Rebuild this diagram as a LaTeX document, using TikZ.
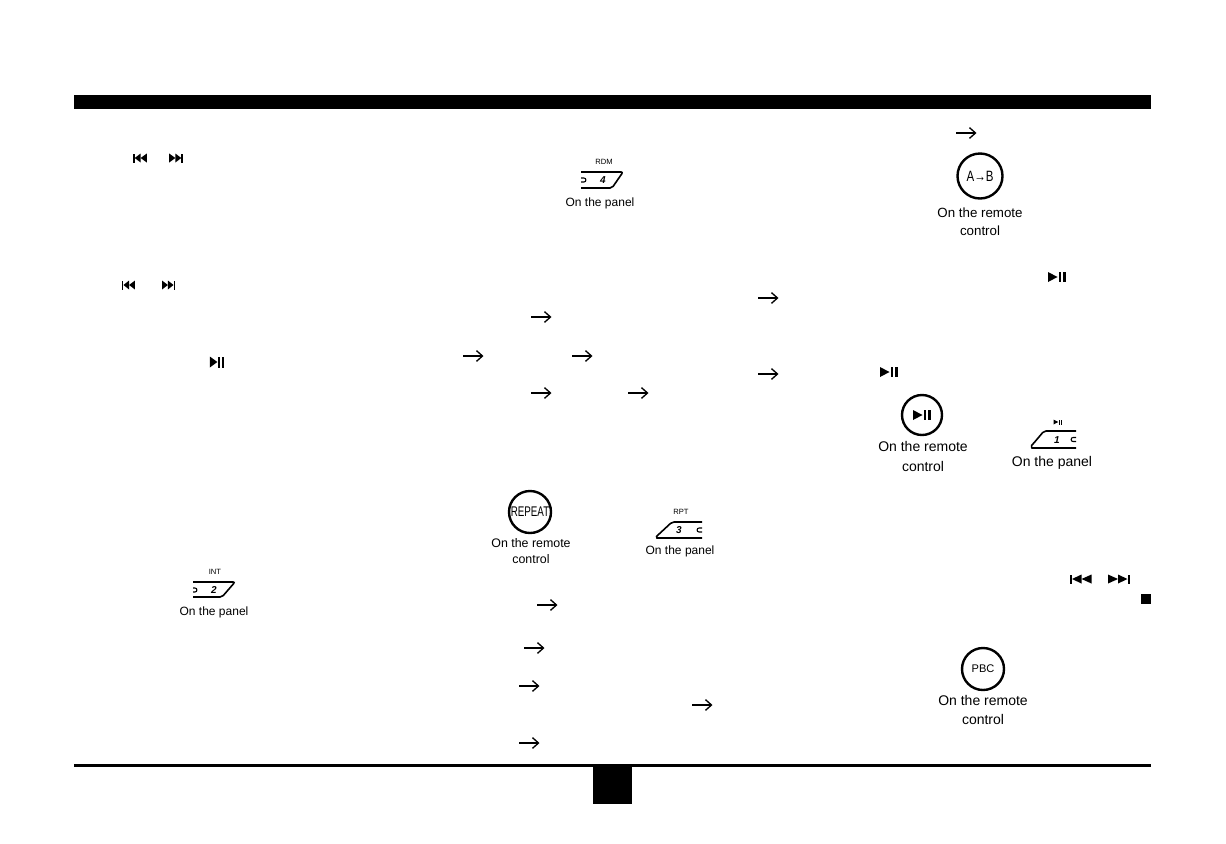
\documentclass[tikz,border=0pt]{standalone}
\usepackage{fontspec}
\setmainfont{Liberation Sans}
\usetikzlibrary{arrows.meta}
\newcommand{\pxfont}[1]{\fontsize{#1}{#1}\selectfont}
\tikzset{
  pics/previcon/.style={code={
    \fill (-11,-4.5) rectangle (-8.5,4.5);
    \fill (-8.5,0) -- (1,-4.5) -- (1,4.5) -- cycle;
    \fill (1,0) -- (11,-4.5) -- (11,4.5) -- cycle;}},
  pics/playicon/.style={code={
    \fill (-9,-5) -- (-9,5) -- (0.5,0) -- cycle;
    \fill (1.5,-5) rectangle (4,5);
    \fill (5.8,-5) rectangle (8.5,5);}}
}
\begin{document}
\begin{tikzpicture}
  [x=0.75pt, y=-0.75pt,
   every node/.style={inner sep=0pt, align=center},
   bigarrow/.style={line width=1.1pt, -{Straight Barb[length=4.5pt,width=8pt,line width=1pt]}},
   keyline/.style={line width=1.2pt, rounded corners=1.5pt},
   keyring/.style={line width=0.8pt},
   button/.style={circle, draw, line width=1.8pt, minimum size=#1*0.75pt},
   caption/.style={font=\pxfont{9pt}},
   capremote/.style={font=\pxfont{10pt}},
   capright/.style={font=\pxfont{10.5pt}},
   keytop/.style={font=\pxfont{5.7pt}},
   keynum/.style={font=\pxfont{7.5pt}\bfseries\itshape}]
  \useasboundingbox (0,0) rectangle (1226,843);

  % header and footer
  \fill (74,95) rectangle (1151,109);
  \fill (74,764) rectangle (1151,767);
  \fill (593,764) rectangle (632,804);

  % arrows of the text
  \foreach \name/\xpos/\ypos in {m1/758/298, m2/531/317, m3/463/356, m4/572/356, m5/758/374,
      m6/531/393, m7/628/393, n1/537/605, n2/524/648, n3/519/686, n4/692/705, n5/519/743, r1/956/133}
  {
    \coordinate (\name a) at (\xpos,\ypos);
    \coordinate (\name b) at (\xpos+20.5,\ypos);
    \draw[bigarrow] (\name a) -- (\name b);
  }

  % icons in the text
  \pic[xscale=0.62] at (140,158) {previcon};
  \pic[xscale=-0.62] at (176,158) {previcon};
  \pic[xscale=0.59] at (128.5,285) {previcon};
  \pic[xscale=-0.59] at (168.5,285) {previcon};
  \pic[xscale=0.8,yscale=1.1] at (217,362) {playicon};
  \pic at (1057,277) {playicon};
  \pic at (889,372) {playicon};
  \pic at (1080.5,579) {previcon};
  \pic[xscale=-1] at (1119,579) {previcon};
  \fill (1141,594) rectangle (1151,604);

  % INT key
  \node[keytop] (intlabel) at (215,572) {INT};
  \draw[keyline] (193,582) -- (235,582) -- (222,597) -- (193,597);
  \draw[keyring] (193,588) -- (195,588) .. controls (197.5,588) and (197.5,592) .. (195,592) -- (193,592);
  \node[keynum] (intnum) at (214,590) {2};
  \node[caption] (intcap) at (214,612) {On the panel};

  % RDM key
  \node[keytop] (rdmlabel) at (604,162) {RDM};
  \draw[keyline] (581,172) -- (623,172) -- (612,188) -- (581,188);
  \draw[keyring] (581,178) -- (584,178) .. controls (586.5,178) and (586.5,182) .. (584,182) -- (581,182);
  \node[keynum] (rdmnum) at (603,180) {4};
  \node[caption] (rdmcap) at (600,203) {On the panel};

  % REPEAT button and RPT key
  \node[button=42] (repeat) at (530,512) {\pxfont{10.5pt}\scalebox{.7}[1]{REPEAT}};
  \node[font=\pxfont{9.3pt}] (repeatcap) at (531,551) {On the remote\\[3pt]control};
  \node[keytop] (rptlabel) at (681,512) {RPT};
  \draw[keyline] (702,522) -- (672,522) -- (658,535) .. controls (656,537) and (657,538) .. (659,538) -- (702,538);
  \draw[keyring] (702,528) -- (699,528) .. controls (696.5,528) and (696.5,532) .. (699,532) -- (702,532);
  \node[keynum] (rptnum) at (679,530) {3};
  \node[caption] (rptcap) at (680,551) {On the panel};

  % A-B button
  \node[button=45] (abbutton) at (980,176) {\pxfont{11.2pt}\scalebox{.77}[1]{A→B}};
  \node[capremote] (abcap) at (980,222) {On the remote\\[3.75pt]control};

  % play button and key
  \node[button=40] (playbutton) at (922,415) {};
  \pic at (playbutton) {playicon};
  \node[capright] (playcap) at (923,456) {On the remote\\[4.5pt]control};
  \pic[scale=0.5] at (1058,422) {playicon};
  \draw[keyline] (1076,431) -- (1044,431) -- (1033,444) .. controls (1031,446) and (1032,448) .. (1034,448) -- (1076,448);
  \draw[keyring] (1076,437.5) -- (1073,437.5) .. controls (1070.5,437.5) and (1070.5,441.5) .. (1073,441.5) -- (1076,441.5);
  \node[keynum] (playnum) at (1057,440) {1};
  \node[capright] (playkeycap) at (1052,463) {On the panel};

  % PBC button
  \node[button=42] (pbc) at (983,669) {\pxfont{8.3pt}PBC};
  \node[capright] (pbccap) at (983,710) {On the remote\\[3.75pt]control};
\end{tikzpicture}
\end{document}
